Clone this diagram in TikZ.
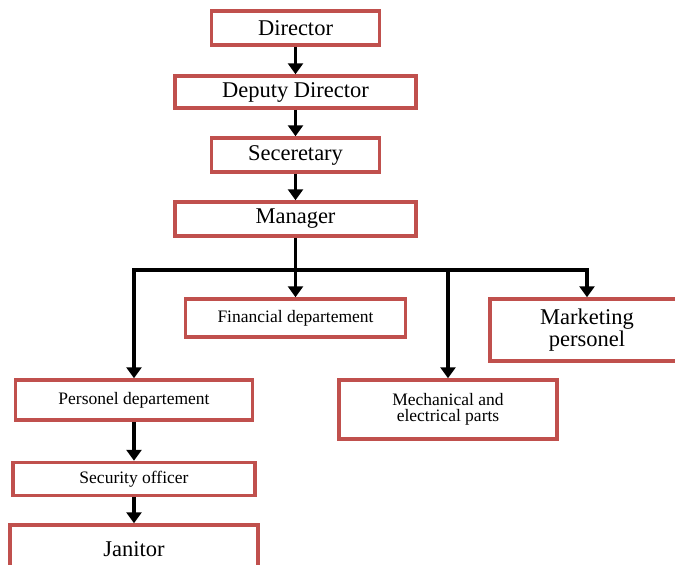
\documentclass[tikz,border=0pt]{standalone}
\usepackage{fontspec}
\setmainfont{Liberation Serif}
\usepackage{xcolor}
\definecolor{boxred}{RGB}{192,80,77}
\usetikzlibrary{arrows.meta, positioning}

\begin{document}
\begin{tikzpicture}[x=1pt,y=-1pt,>={Triangle[width=15pt,length=11pt]},
        orgbox/.style={draw=boxred,line width=3.5pt,inner sep=0pt,align=center,
            font=\fontsize{22.5}{22}\selectfont},
        smallbox/.style={orgbox,font=\fontsize{17.5}{16.5}\selectfont},
        link/.style={->,line width=3.8pt}]
    \useasboundingbox (0,0) rectangle (675,565);

      \node[orgbox,minimum width=168pt,minimum height=34pt] (dir)     at (295.5,28)  {Director};
      \node[orgbox,minimum width=241pt,minimum height=32pt] (dep_dir) at (295.5,92)  {Deputy Director};
      \node[orgbox,minimum width=168pt,minimum height=34pt] (sec)     at (295.5,155) {Seceretary};
      \node[orgbox,minimum width=241pt,minimum height=34pt] (mgr)     at (295.5,219) {Manager};
      \node[smallbox,minimum width=220pt,minimum height=38pt] (fin)   at (295.5,318) {Financial departement};
      \node[orgbox,minimum width=194pt,minimum height=62pt] (mkt)     at (587,330)   {Marketing\\personel};
      \node[smallbox,minimum width=218pt,minimum height=59pt] (mech)  at (448,409.5) {Mechanical and\\electrical parts};
      \node[smallbox,minimum width=237pt,minimum height=40pt] (pers)  at (134,400)   {Personel departement};
      \node[smallbox,minimum width=242pt,minimum height=33pt] (sec_off) [below=39pt of pers] {Security officer};
      \node[orgbox,minimum width=248pt,minimum height=48pt] (jan)     [below=26pt of sec_off] {Janitor};
      \coordinate (bus) at (295.5,270);

      \draw[link] (dir) -- (dep_dir);
      \draw[link] (dep_dir) -- (sec);
      \draw[link] (sec) -- (mgr);
      \draw[link] (mgr) -- (fin);
      \draw[link] (bus) -| (pers);
      \draw[link] (bus) -| (mech);
      \draw[link] (bus) -| (mkt);
      \draw[link] (pers) -- (sec_off);
      \draw[link] (sec_off) -- (jan);
    \end{tikzpicture}
\end{document}
